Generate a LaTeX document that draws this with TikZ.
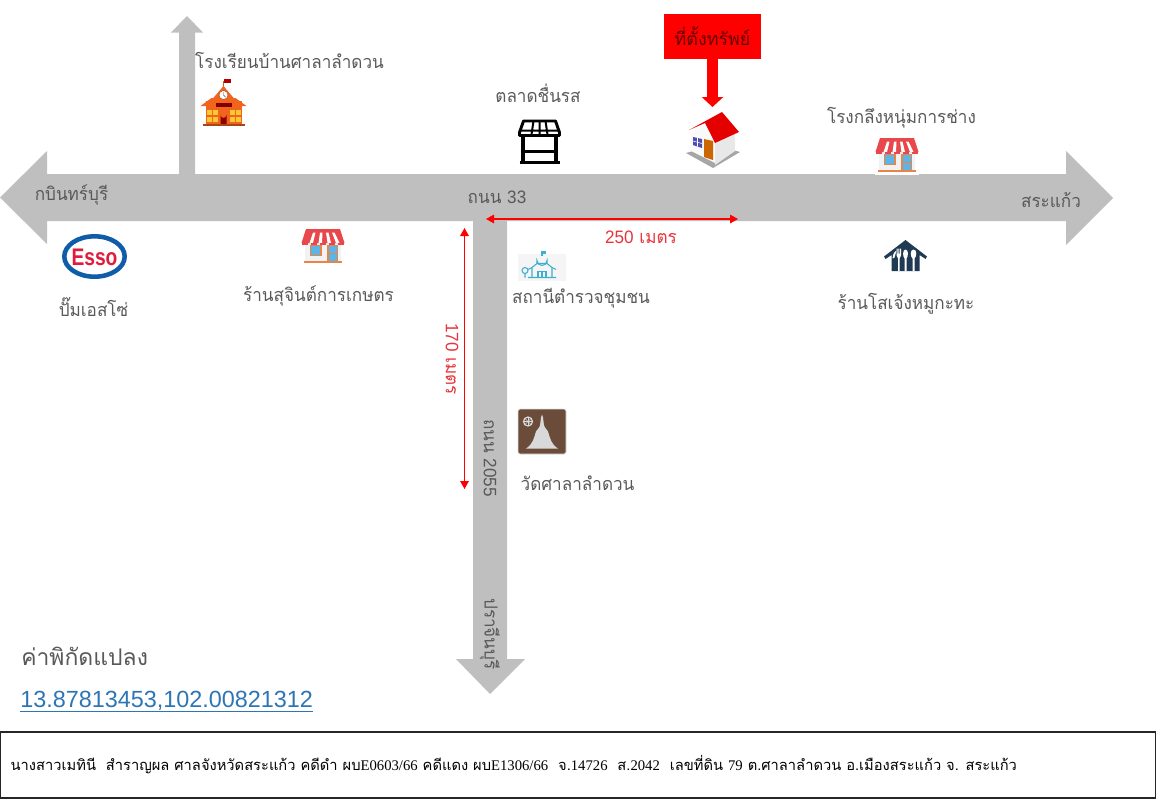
\documentclass[tikz,border=0pt]{standalone}
\usepackage{fontspec}
\setmainfont[Script=Thai]{Loma}
\newfontfamily\latfont{Liberation Sans}
\newfontfamily\serfont{Liberation Serif}
\usetikzlibrary{arrows.meta,shapes.geometric}
\definecolor{road}{HTML}{BFBFBF}
\definecolor{ink}{HTML}{595959}
\definecolor{dimred}{HTML}{E8343A}
\definecolor{linkblue}{HTML}{2E75B6}
\definecolor{awnred}{HTML}{E8474C}
\definecolor{shopblue}{HTML}{5DB5E5}
\definecolor{shoporange}{HTML}{E8844A}
\definecolor{schoolor}{HTML}{F0641E}
\definecolor{navy}{HTML}{1F3A52}
\definecolor{watbrown}{HTML}{6B4C3B}
\definecolor{policecy}{HTML}{3FAFD0}
\definecolor{essoblue}{HTML}{0F5CA8}
\definecolor{essored}{HTML}{E01B3C}
\newcommand{\pxfont}[1]{\fontsize{#1}{#1}\selectfont}
\newcommand{\sq}[1]{\scalebox{.95}[1]{#1}}
\tikzset{
 lbl/.style={inner sep=0pt,text=ink,font=\pxfont{13.5}},
 dimline/.style={draw=red,line width=.8pt,{Triangle[length=6pt,width=6.5pt]}-{Triangle[length=6pt,width=6.5pt]}},
 storefront/.pic={
  \fill[white!90!gray] (-18,-3) rectangle (18,16);
  \fill[shoporange] (-13.5,-1.5) rectangle (-1.5,10);
  \fill[shopblue] (-12,0) rectangle (-3,8.5);
  \fill[shoporange] (4,-1.5) rectangle (15,16);
  \fill[shopblue] (5.5,0) rectangle (13.5,6.5);
  \fill[shopblue] (5.5,8) rectangle (13.5,16);
  \fill[shoporange] (-19,15) rectangle (19,17);
  \fill[awnred] (-17,-17) -- (17,-17) -- (21.5,-3) -- (-21.5,-3) -- cycle;
  \foreach \a/\b in {-10/-13.5,-3/-4.5,3/4.5,9/13}{
   \fill[white] (\a,-13.5) -- (\a+2.5,-13.5) -- (\b+3.5,-3) -- (\b,-3) -- cycle;}
  \fill[awnred] (-9,-17) rectangle (9,-14);
  \foreach \a in {-18,-9,0,9,18}{\fill[awnred] (\a-2.6,-3.5) rectangle (\a+2.6,-1.5);}
 }
}
\begin{document}
\begin{tikzpicture}[x=.75pt,y=-.75pt]
\useasboundingbox (0,0) rectangle (1156,800);
% roads
\fill[road] (0,197.5) -- (47,151) -- (47,174) -- (1066,174) -- (1066,151) -- (1113,198) -- (1066,245) -- (1066,221) -- (47,221) -- (47,244) -- cycle;
\fill[road] (179,175) -- (179,32.5) -- (171,32.5) -- (187,16) -- (203,32.5) -- (195,32.5) -- (195,175) -- cycle;
\fill[road] (473,220) -- (473,659) -- (456,659) -- (490,694) -- (525,659) -- (507,659) -- (507,220) -- cycle;
% property marker
\node[fill=red,inner sep=0pt,minimum width=72.75pt,minimum height=33.75pt,text=red!40!black,font=\pxfont{13.4}] (prop) at (712.5,36.5) {\raisebox{1pt}{ที่ตั้งทรัพย์}};
\coordinate (proptip) at (712.5,107);
\draw[red,line width=8.25pt,-{Triangle[length=7.5pt,width=15.75pt]}] (prop.south) -- (proptip);
% dimension arrows
\coordinate (d1a) at (486,219); \coordinate (d1b) at (738,219);
\draw[dimline] (d1a) -- (d1b);
\coordinate (d2a) at (464.5,228); \coordinate (d2b) at (464.5,489);
\draw[dimline] (d2a) -- (d2b);
% labels
\node[lbl] (t1) at (289.5,60) {\sq{โรงเรียนบ้านศาลาลำดวน}};
\node[lbl] (t2) at (538,93.5) {\sq{ตลาดชื่นรส}};
\node[lbl] (t3) at (901.5,117.5) {\sq{โรงกลึงหนุ่มการช่าง}};
\node[lbl] (t4) at (71.5,195) {\sq{กบินทร์บุรี}};
\node[lbl] (t5) at (497,197) {\sq{ถนน {\latfont 33}}};
\node[lbl] (t6) at (1051,200) {\sq{สระแก้ว}};
\node[lbl,text=dimred] (t7) at (641,237) {\sq{{\latfont 250} เมตร}};
\node[lbl] (t8) at (93.5,307) {\sq{ปั๊มเอสโซ่}};
\node[lbl] (t9) at (318.5,296) {\sq{ร้านสุจินต์การเกษตร}};
\node[lbl] (t10) at (581,298) {\sq{สถานีตำรวจชุมชน}};
\node[lbl] (t11) at (906,304) {\sq{ร้านโสเจ้งหมูกะทะ}};
\node[lbl,text=dimred,rotate=-90] (t12) at (452,359) {\sq{{\latfont 170} เมตร}};
\node[lbl,rotate=-90] (t13) at (490,458) {\sq{ถนน {\latfont 2055}}};
\node[lbl,rotate=-90] (t14) at (490,634) {\sq{ปราจีนบุรี}};
\node[lbl] (t15) at (577.5,483) {\sq{วัดศาลาลำดวน}};
\node[lbl,font=\pxfont{17.2},anchor=west] (t16) at (21,656) {ค่าพิกัดแปลง};
\node[inner sep=0pt,anchor=west,text=linkblue,font=\latfont\pxfont{17.55}] (t17) at (20,701) {13.87813453,102.00821312};
\draw[linkblue,line width=.8pt] (t17.west |- 0,711.5) -- (t17.east |- 0,711.5);
% bottom box
\node[draw=black!85,line width=1.1pt,inner sep=0pt,minimum width=866pt,minimum height=49.5pt,text=black,font=\pxfont{11.02}] (frame) at (578,765) {\makebox[851pt][l]{นางสาวเมทินี\ \ สำราญผล ศาลจังหวัดสระแก้ว คดีดำ ผบ{\serfont E0603/66} คดีแดง ผบ{\serfont E1306/66}\ \ จ.{\serfont 14726}\ \ ส.{\serfont 2042}\ \ เลขที่ดิน {\serfont 79} ต.ศาลาลำดวน อ.เมืองสระแก้ว จ. สระแก้ว}};
% Esso
\draw[essoblue,fill=white,line width=3.4pt] (94.5,256.5) ellipse [x radius=30.2,y radius=20.2];
\node[inner sep=0pt,text=essored,font=\latfont\bfseries\pxfont{18}] (esso) at (94.5,257) {\scalebox{.8}[1]{Esso}};
% storefronts
\pic at (323,246) {storefront};
\fill[white] (875,135) rectangle (919,175);
\pic at (897,155) {storefront};
% school
\begin{scope}[shift={(223.5,103)}]
 \fill[schoolor!90!black] (-1,-22) rectangle (0,-12);
 \fill[red!70!black] (0,-24) rectangle (7,-20);
 \fill[schoolor] (-18,-2) rectangle (18,22);
 \fill[schoolor] (-11,-4) -- (0,-17) -- (11,-4) -- (11,4) -- (-11,4) -- cycle;
 \fill[schoolor] (-23,3) -- (-12,-5) -- (12,-5) -- (23,3) -- cycle;
 \fill[white] (0,-8) circle (4.5);
 \draw[schoolor!60!black,line width=.3pt] (0,-8) circle (4.5) (0,-8) -- (0,-11) (0,-8) -- (2,-6);
 \fill[red!50!black] (-8,0) rectangle (8,3.5);
 \foreach \x in {-17,-11,6,12}{\foreach \y in {7,14}{\fill[yellow!50!orange!80!white] (\x,\y) rectangle ++(5,5);}}
 \fill[red!55!black] (-3,22) -- (-3,12) arc[start angle=180,end angle=0,radius=3] -- (3,22) -- cycle;
 \fill[schoolor!70!black] (-21,21) rectangle (21,23);
\end{scope}
% market stall
\begin{scope}[shift={(539.5,141.5)},draw=black,line width=2.2pt,line join=round]
 \draw (-16,-20.5) -- (16,-20.5) -- (20,-9) -- (20,-6) -- (-20,-6) -- (-20,-9) -- cycle;
 \draw[line width=1.5pt] (-6,-20.5) -- (-8,-7) (0,-20.5) -- (0,-7) (6,-20.5) -- (8,-7) (-19,-11) -- (19,-11);
 \draw[line width=2.4pt] (-16.5,-6) -- (-16.5,20) (16.5,-6) -- (16.5,20) (-16.5,10) -- (16.5,10);
 \draw[line width=2.6pt] (-20,21) -- (20,21);
\end{scope}
% house
\begin{scope}[shift={(713,140)}]
 \fill[gray!70] (-27,13) -- (2,5) -- (27,12) -- (0,28) -- cycle;
 \fill[white!95!gray] (-22,-7) -- (-8,-15) -- (2,3) -- (2,23) -- (-22,11) -- cycle;
 \fill[white!82!gray] (2,3) -- (22,-7) -- (22,11) -- (2,25) -- cycle;
 \fill[red!90!black] (-24,-10) -- (9,-28) -- (26,-8) -- (2,3) -- (-8,-17) -- cycle;
 \fill[orange!80!black] (-9,-1) -- (0,1) -- (0,20) -- (-9,17) -- cycle;
 \fill[blue!40!gray] (-20,-3) -- (-11,-1) -- (-11,8) -- (-20,5) -- cycle;
 \draw[white,line width=.4pt] (-15.5,-2) -- (-15.5,6.5) (-20,1) -- (-11,3.5);
\end{scope}
% police station
\begin{scope}[shift={(542,267.5)}]
 \fill[gray!8] (-24,-13.5) rectangle (24,13.5);
 \begin{scope}[draw=policecy,line width=.8pt]
  \draw (-10,10) -- (-10,0) -- (-14,2) (-10,0) -- (-5,-4) -- (5,-4) -- (10,0) -- (10,10);
  \draw (14,2) -- (10,0) (-14,10) -- (14,10);
  \draw (-5,-4) -- (-5,-7) arc[start angle=180,end angle=0,radius=5] -- (5,-4);
  \draw (-4,10) -- (-4,4) -- (4,4) -- (4,10) (0,4) -- (0,10);
  \draw (0,-12) -- (0,-17);
  \fill[policecy] (0,-17) rectangle (4,-14);
  \draw (-17,3) circle (3) (-17,6) -- (-17,10);
 \end{scope}
\end{scope}
% wat icon
\begin{scope}[shift={(542,431.5)}]
 \fill[watbrown,draw=gray!25,line width=.6pt,rounded corners=1.5pt] (-24,-22.5) rectangle (24,22.5);
 \fill[gray!30] (-16,17) -- (16,17) .. controls (9,13) and (8,6) .. (6,0) -- (3,-4) -- (2,-6) -- (1,-14) -- (0,-17) -- (-1,-14) -- (-2,-6) -- (-3,-4) -- (-6,0) .. controls (-8,6) and (-9,13) .. (-16,17) -- cycle;
 \draw[gray!30,line width=.9pt] (-14,-10) circle (4.5);
 \foreach \a in {0,45,...,135}{\draw[gray!30,line width=.5pt] (-14,-10) +(\a:4.5) -- +(\a+180:4.5);}
\end{scope}
% restaurant icon
\begin{scope}[shift={(905.5,255.5)}]
 \fill[navy] (0,-15.5) -- (21.5,1) -- (20,3.5) -- (14,-0.5) -- (14,15.5) -- (-14,15.5) -- (-14,-0.5) -- (-20,3.5) -- (-21.5,1) -- cycle;
 \fill[white] (-13,3) .. controls (-13,-3) and (-9,-5) .. (-9,-5) -- (-11,2) -- cycle;
 \fill[white] (-9,-7) -- (-9,0) -- (-7.5,3) -- (-7.5,15.5) -- (-6,15.5) -- (-6,3) -- (-4.5,0) -- (-4.5,-7) -- (-5.5,-7) -- (-5.5,-2) -- (-6.2,-2) -- (-6.2,-7) -- (-7.2,-7) -- (-7.2,-2) -- (-8,-2) -- (-8,-7) -- cycle;
 \fill[white] (0,-6) .. controls (-3,-6) and (-3,1) .. (-1,3) -- (-1,15.5) -- (1,15.5) -- (1,3) .. controls (3,1) and (3,-6) .. (0,-6) -- cycle;
 \fill[white] (8,-6) .. controls (4.5,-6) and (4.5,1) .. (7,3) -- (7,15.5) -- (9,15.5) -- (9,3) .. controls (11.5,1) and (11.5,-6) .. (8,-6) -- cycle;
\end{scope}
\end{tikzpicture}
\end{document}
